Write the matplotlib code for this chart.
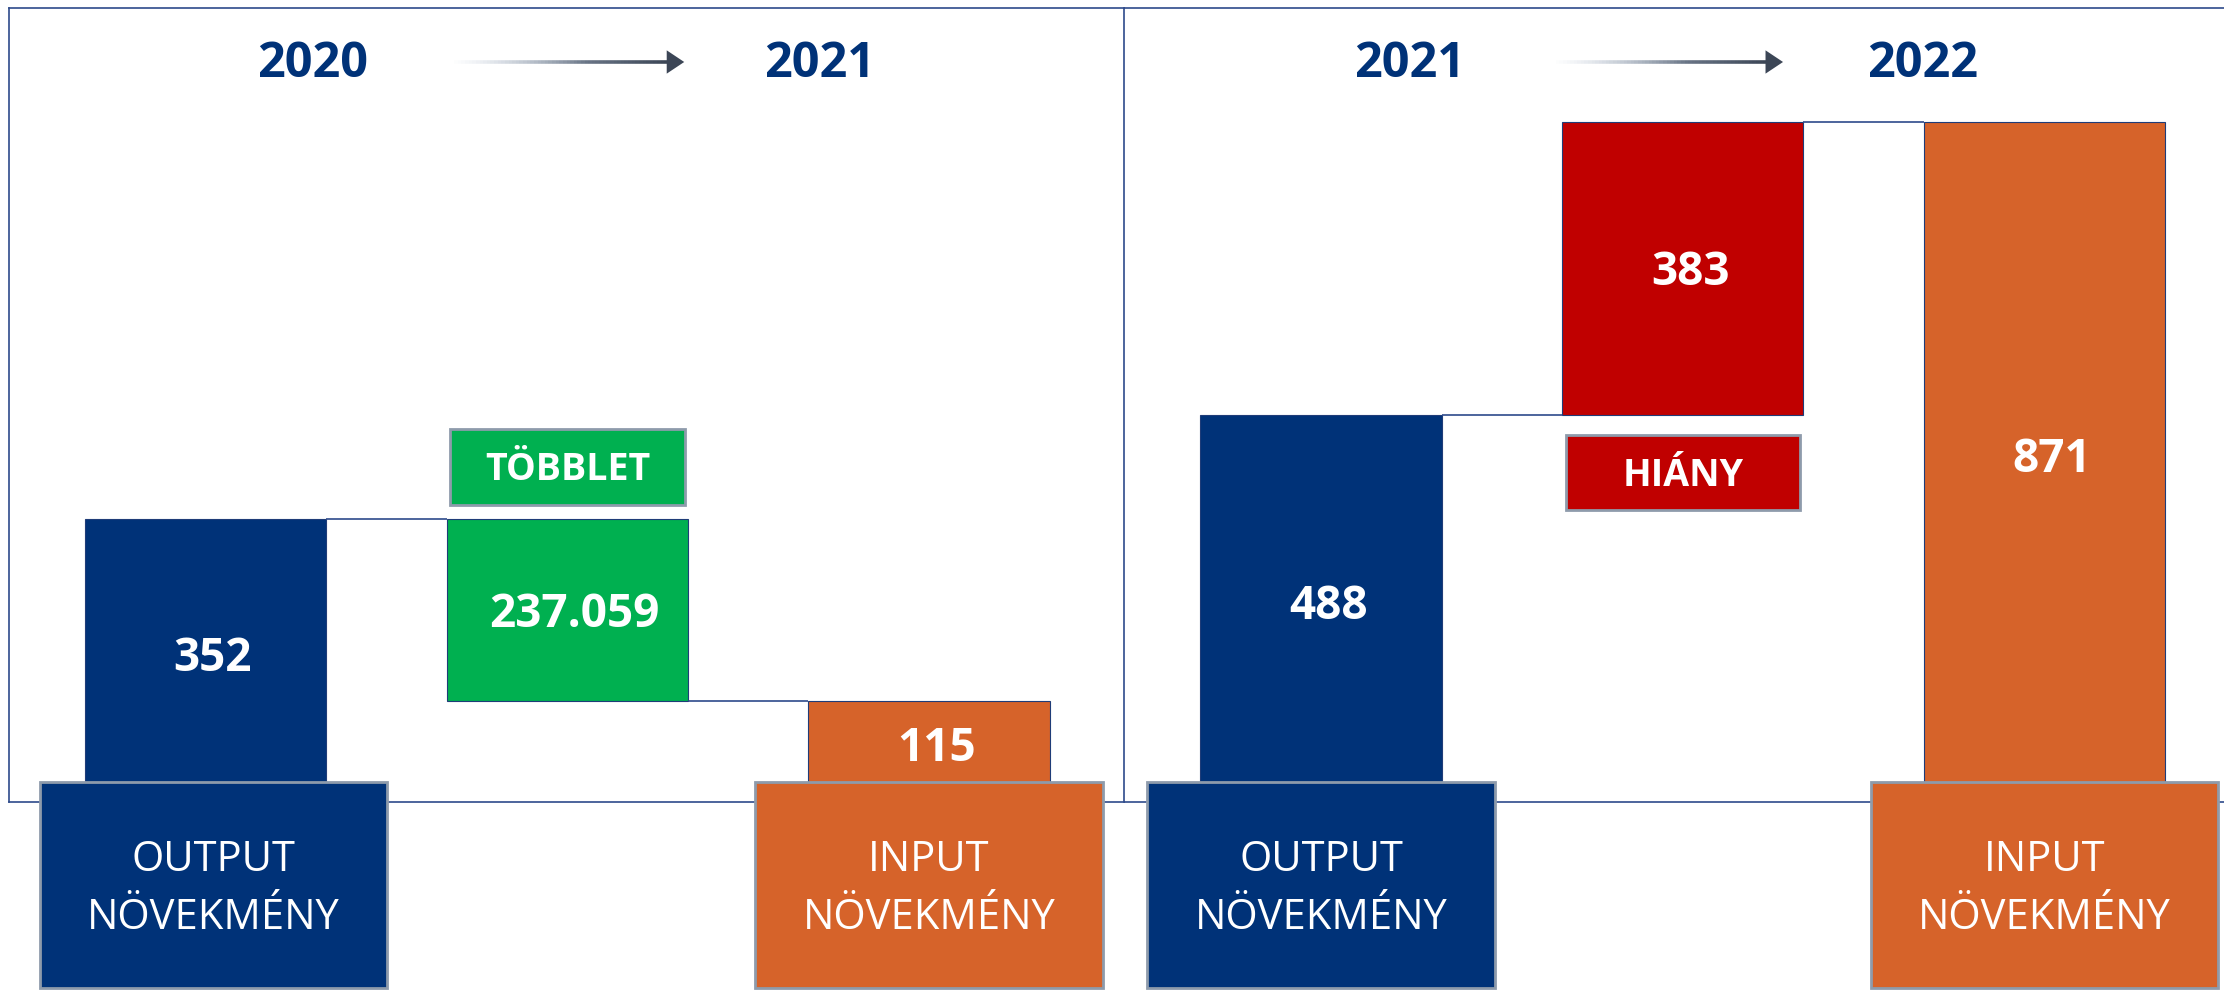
import numpy as np
import matplotlib.pyplot as plt
from matplotlib.patches import Rectangle
from matplotlib.collections import LineCollection
from matplotlib.colors import to_rgba

plt.rcParams['font.family'] = ['Open Sans', 'DejaVu Sans']

# adatok
kategoriak = ['OUTPUT\nNÖVEKMÉNY', '', 'INPUT\nNÖVEKMÉNY']

evek_1 = ['2020', '2021']
ertekek_1 = [352, 237.059, 115]
szinek_1 = ['#003278', '#00B050', '#D6632A']
cimke_1 = 'TÖBBLET'

evek_2 = ['2021', '2022']
ertekek_2 = [488, 383, 871]
szinek_2 = ['#003278', '#C00000', '#D6632A']
cimke_2 = 'HIÁNY'

KEK = '#003278'
VONAL = '#2E4A8B'
SZURKE = '#8E9BAB'
W = 2224
H = 1008


def felirat(ax, x, y, s, meret, **kw):
    # baseline-ra igazitva, a nagybetuk kozepe kerul y-ra
    ax.annotate(s, (x, y), xytext=(0, -meret * 0.357), textcoords='offset points',
                ha='center', va='baseline', color='white', fontsize=meret, **kw)


def panel(ax, evek, ertekek, szinek, cimke, hiany, xlim, ev_x, nyil_x, dx0=0.0):
    v0, v1, v2 = ertekek
    kozep_alja = v0 if hiany else v0 - v1
    x = np.arange(3)
    w = 0.667

    ax.bar(x, [v0, v1, v2], bottom=[0, kozep_alja, 0], width=w,
           color=szinek, edgecolor='#1F3C78', linewidth=0.8, zorder=2)

    # osszekoto vonalak
    ax.hlines(v0, 0 + w / 2, 1 - w / 2, color=VONAL, lw=1.2, zorder=2)
    ax.hlines(v2, 1 + w / 2, 2 - w / 2, color=VONAL, lw=1.2, zorder=2)

    # ertekek az oszlopokon
    kozepek = [v0 / 2, kozep_alja + v1 / 2, v2 / 2]
    for xi, yi, v in zip(x, kozepek, ertekek):
        felirat(ax, xi + 0.02, yi, f'{v:g}', 33, fontweight='bold', zorder=4)

    # tobblet / hiany cimke
    cw = 0.648
    if hiany:
        cy0, cy1 = v0 - 124, v0 - 26
    else:
        cy0, cy1 = v0 + 19, v0 + 118
    ax.add_patch(Rectangle((1 - cw / 2, cy0), cw, cy1 - cy0, facecolor=szinek[1],
                           edgecolor=SZURKE, lw=2, zorder=3))
    felirat(ax, 1, (cy0 + cy1) / 2, cimke, 27, fontweight='bold', zorder=4)

    # also kategoria dobozok
    bw = 0.961
    for i in (0, 2):
        xc = i + (dx0 if i == 0 else 0)
        ax.add_patch(Rectangle((xc - bw / 2, -260), bw, 269, facecolor=szinek[i],
                               edgecolor=SZURKE, lw=2, zorder=5, clip_on=False))
        ax.text(xc, -131, kategoriak[i], ha='center', va='center', color='white',
                fontsize=30, linespacing=1.5, zorder=6, clip_on=False)

    # evszamok
    tr = ax.get_xaxis_transform()
    for ex, ev in zip(ev_x, evek):
        ax.text(ex, 0.929, ev, transform=tr, ha='center', va='center', color=KEK,
                fontsize=35, fontweight='bold')

    # atmenetes nyil
    xa, xb = nyil_x
    fej = 0.045
    n = 60
    xs = np.linspace(xa, xb - fej, n + 1)
    seg = [[(xs[k], 0.932), (xs[k + 1], 0.932)] for k in range(n)]
    t = np.linspace(0, 1, n)
    c0 = np.array(to_rgba('#B4C3D6'))
    c1 = np.array(to_rgba('#3C4656'))
    cols = [(1 - tt) * c0 + tt * c1 for tt in t]
    for c, tt in zip(cols, t):
        c[3] = min(1.0, tt * 1.6)
    ax.add_collection(LineCollection(seg, colors=cols, linewidths=2.6, transform=tr))
    ax.annotate('', xy=(xb, 0.932), xytext=(xb - fej, 0.932),
                xycoords=('data', 'axes fraction'),
                arrowprops=dict(arrowstyle='-|>,head_length=0.45,head_width=0.3',
                                mutation_scale=28, color='#3C4656', lw=0,
                                shrinkA=0, shrinkB=0))

    ax.set_xlim(*xlim)
    ax.set_ylim(-17, 1020)
    ax.set_xticks([])
    ax.set_yticks([])
    for s in ax.spines.values():
        s.set_color(VONAL)
        s.set_linewidth(1.2)


fig = plt.figure(figsize=(W / 100, H / 100), dpi=100)
alja = (H - 802) / H
magas = (802 - 8) / H
ax1 = fig.add_axes([9 / W, alja, (1124 - 9) / W, magas])
ax2 = fig.add_axes([1125 / W, alja, (W - 1125) / W, magas])

panel(ax1, evek_1, ertekek_1, szinek_1, cimke_1, False,
      (-0.544, 2.539), (0.295, 1.697), (0.677, 1.323), dx0=0.022)
panel(ax2, evek_2, ertekek_2, szinek_2, cimke_2, True,
      (-0.542, 2.496), (0.246, 1.662), (0.639, 1.277))
ax2.spines['right'].set_visible(False)
ax2.spines['left'].set_visible(False)

fig.savefig('out.png', dpi=100)
